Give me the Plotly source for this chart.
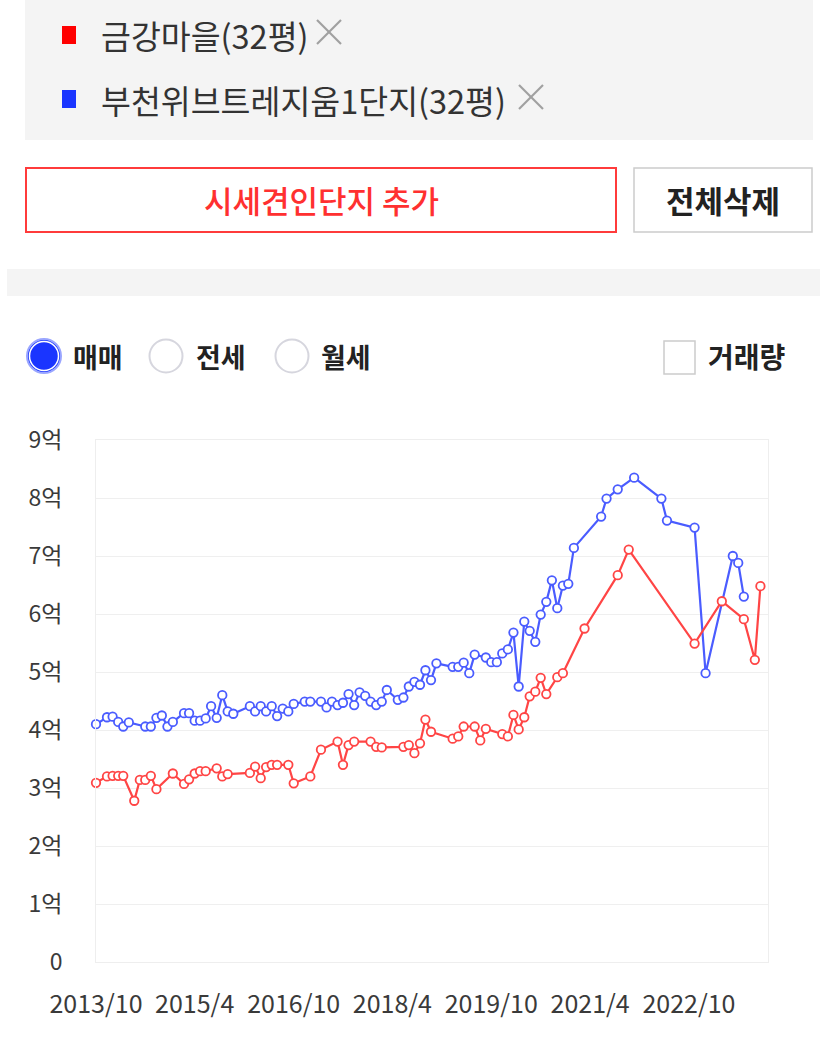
import plotly.graph_objects as go

# ---- price history (unit: 억 원) ----
red_name = "금강마을(32평)"
red_dates = [
    "2013-10", "2013-12", "2014-01", "2014-02", "2014-03", "2014-05", "2014-06",
    "2014-07", "2014-08", "2014-09", "2014-12", "2015-02", "2015-03", "2015-04",
    "2015-05", "2015-06", "2015-08", "2015-09", "2015-10", "2016-02", "2016-03",
    "2016-04", "2016-05", "2016-06", "2016-07", "2016-09", "2016-10", "2017-01",
    "2017-03", "2017-06", "2017-07", "2017-08", "2017-09", "2017-12", "2018-01",
    "2018-02", "2018-06", "2018-07", "2018-08", "2018-09", "2018-10", "2018-11",
    "2019-03", "2019-04", "2019-05", "2019-07", "2019-08", "2019-09", "2019-12",
    "2020-01", "2020-02", "2020-03", "2020-04", "2020-05", "2020-06", "2020-07",
    "2020-08", "2020-10", "2020-11", "2021-03", "2021-09", "2021-11", "2022-11",
    "2023-04", "2023-08", "2023-10", "2023-11",
]
red_values = [
    3.09, 3.20, 3.21, 3.21, 3.21, 2.78, 3.14,
    3.14, 3.21, 2.98, 3.25, 3.07, 3.15, 3.25,
    3.29, 3.29, 3.34, 3.20, 3.24, 3.26, 3.37,
    3.17, 3.36, 3.40, 3.40, 3.40, 3.08, 3.20,
    3.66, 3.80, 3.40, 3.74, 3.80, 3.80, 3.71,
    3.70, 3.71, 3.74, 3.60, 3.77, 4.18, 3.97,
    3.85, 3.89, 4.06, 4.06, 3.82, 4.02, 3.93,
    3.89, 4.26, 4.01, 4.22, 4.58, 4.66, 4.90,
    4.62, 4.91, 4.98, 5.75, 6.67, 7.11, 5.49,
    6.22, 5.91, 5.21, 6.48,
]

blue_name = "부천위브트레지움1단지(32평)"
blue_dates = [
    "2013-10", "2013-12", "2014-01", "2014-02", "2014-03", "2014-04", "2014-07",
    "2014-08", "2014-09", "2014-10", "2014-11", "2014-12", "2015-02", "2015-03",
    "2015-04", "2015-05", "2015-06", "2015-07", "2015-08", "2015-09", "2015-10",
    "2015-11", "2016-02", "2016-03", "2016-04", "2016-05", "2016-06", "2016-07",
    "2016-08", "2016-09", "2016-10", "2016-12", "2017-01", "2017-03", "2017-04",
    "2017-05", "2017-06", "2017-07", "2017-08", "2017-09", "2017-10", "2017-11",
    "2017-12", "2018-01", "2018-02", "2018-03", "2018-05", "2018-06", "2018-07",
    "2018-08", "2018-09", "2018-10", "2018-11", "2018-12", "2019-03", "2019-04",
    "2019-05", "2019-06", "2019-07", "2019-09", "2019-10", "2019-11", "2019-12",
    "2020-01", "2020-02", "2020-03", "2020-04", "2020-05", "2020-06", "2020-07",
    "2020-08", "2020-09", "2020-10", "2020-11", "2020-12", "2021-01", "2021-06",
    "2021-07", "2021-09", "2021-12", "2022-05", "2022-06", "2022-11", "2023-01",
    "2023-06", "2023-07", "2023-08",
]
blue_values = [
    4.10, 4.22, 4.23, 4.14, 4.06, 4.13, 4.06,
    4.06, 4.21, 4.25, 4.06, 4.14, 4.29, 4.29,
    4.16, 4.16, 4.20, 4.41, 4.21, 4.60, 4.32,
    4.28, 4.41, 4.32, 4.41, 4.32, 4.41, 4.24,
    4.37, 4.32, 4.45, 4.49, 4.49, 4.49, 4.39,
    4.49, 4.43, 4.47, 4.62, 4.43, 4.65, 4.59,
    4.49, 4.43, 4.49, 4.69, 4.52, 4.56, 4.75,
    4.83, 4.78, 5.03, 4.86, 5.15, 5.09, 5.09,
    5.16, 4.98, 5.30, 5.25, 5.17, 5.17, 5.32,
    5.39, 5.68, 4.75, 5.87, 5.71, 5.52, 5.99,
    6.21, 6.58, 6.10, 6.49, 6.52, 7.14, 7.68,
    7.99, 8.15, 8.35, 7.99, 7.61, 7.49, 4.98,
    7.00, 6.88, 6.30,
]

# ---- axis ticks ----
x_tick_dates = ["2013-10-01", "2015-04-01", "2016-10-01", "2018-04-01",
                "2019-10-01", "2021-04-01", "2022-10-01"]
x_tick_text = ["2013/10", "2015/4", "2016/10", "2018/4", "2019/10", "2021/4", "2022/10"]
y_tick_vals = [0, 1, 2, 3, 4, 5, 6, 7, 8, 9]
y_tick_text = ["0", "1억", "2억", "3억", "4억", "5억", "6억", "7억", "8억", "9억"]

# ---- page geometry (pixels) ----
W, H = 827, 1039
PL, PR, PT, PB = 96, 768, 440, 962   # plot box edges

RED = "#ff4545"
BLUE = "#4a5cff"
FONT = "Noto Sans CJK KR"


def px(x):
    return (x - PL) / (PR - PL)


def py(y):
    return (PB - y) / (PB - PT)


def rect(x0, y0, x1, y1, fill="rgba(0,0,0,0)", line=None, width=0):
    return dict(type="rect", xref="paper", yref="paper", layer="below",
                x0=px(x0), x1=px(x1), y0=py(y1), y1=py(y0),
                fillcolor=fill, line=dict(color=line or "rgba(0,0,0,0)", width=width))


def circle(cx, cy, r, fill="rgba(0,0,0,0)", line=None, width=0):
    return dict(type="circle", xref="paper", yref="paper", layer="above",
                x0=px(cx - r), x1=px(cx + r), y0=py(cy + r), y1=py(cy - r),
                fillcolor=fill, line=dict(color=line or "rgba(0,0,0,0)", width=width))


def seg(x0, y0, x1, y1, color, width):
    return dict(type="line", xref="paper", yref="paper",
                x0=px(x0), x1=px(x1), y0=py(y0), y1=py(y1),
                line=dict(color=color, width=width))


def label(x, y, text, size, color="#333333", anchor="left", weight=400):
    return dict(xref="paper", yref="paper", x=px(x), y=py(y), text=text,
                showarrow=False, xanchor=anchor, yanchor="middle",
                font=dict(family=FONT, size=size, color=color, weight=weight))


fig = go.Figure()

for name, dates, vals, col in [(blue_name, blue_dates, blue_values, BLUE),
                               (red_name, red_dates, red_values, RED)]:
    fig.add_trace(go.Scatter(
        x=[d + "-01" for d in dates], y=vals, name=name, mode="lines+markers",
        line=dict(color=col, width=2.2),
        marker=dict(symbol="circle", size=8.5, color="white",
                    line=dict(color=col, width=1.8)),
        cliponaxis=False,
    ))

shapes = [
    # selected-complex panel
    rect(25, -5, 813, 140, fill="#f4f4f4"),
    rect(62, 26, 76, 44, fill="#ff0000"),
    rect(62, 90, 76, 108, fill="#1a35ff"),
    seg(317, 20, 341, 44, "#a0a0a0", 2.2),
    seg(317, 44, 341, 20, "#a0a0a0", 2.2),
    seg(519, 85, 543, 109, "#a0a0a0", 2.2),
    seg(519, 109, 543, 85, "#a0a0a0", 2.2),
    # buttons
    rect(26, 168, 616, 232, fill="white", line="#ff3b3b", width=2),
    rect(634, 168, 812, 232, fill="white", line="#cccccc", width=1.5),
    # separator band
    rect(7, 269, 820, 296, fill="#f4f4f4"),
    # radios and checkbox
    circle(44, 356, 17, fill="#1a35ff", line="#9aa6ff", width=2),
    circle(44, 356, 14.5, line="white", width=1.5),
    circle(166, 356, 16.5, fill="white", line="#d6d6de", width=2),
    circle(292, 356, 16.5, fill="white", line="#d6d6de", width=2),
    rect(664, 341, 695, 374, fill="white", line="#cccccc", width=1.5),
]

annotations = [
    label(99, 34, red_name, 32.5),
    label(99, 99, blue_name, 32.5),
    label(321, 200, "시세견인단지 추가", 31, color="#ff3030", anchor="center", weight=500),
    label(723, 200, "전체삭제", 31, color="#222222", anchor="center", weight=700),
    label(71, 356, "매매", 27, color="#222222", weight=700),
    label(194, 356, "전세", 27, color="#222222", weight=700),
    label(319, 356, "월세", 27, color="#222222", weight=700),
    label(706, 356, "거래량", 28, color="#222222", weight=700),
]

fig.update_layout(
    width=W, height=H,
    margin=dict(l=PL, r=W - PR, t=PT, b=H - PB, pad=0),
    paper_bgcolor="white", plot_bgcolor="white",
    showlegend=False,
    shapes=shapes, annotations=annotations,
    font=dict(family=FONT, color="#444444"),
)

fig.update_xaxes(
    type="date", range=["2013-10-01", "2023-12-13"],
    tickmode="array", tickvals=x_tick_dates, ticktext=x_tick_text,
    tickfont=dict(family=FONT, size=25, color="#3a3a3a"),
    ticks="outside", ticklen=20, tickcolor="rgba(0,0,0,0)",
    showgrid=False, zeroline=False,
    showline=True, mirror=True, linecolor="#eeeeee", linewidth=1,
)
fig.update_yaxes(
    range=[0, 9], tickmode="array", tickvals=y_tick_vals, ticktext=y_tick_text,
    tickfont=dict(family=FONT, size=23, color="#3a3a3a"),
    ticks="outside", ticklen=28, tickcolor="rgba(0,0,0,0)",
    showgrid=True, gridcolor="#efefef", gridwidth=1, zeroline=False,
    showline=True, mirror=True, linecolor="#eeeeee", linewidth=1,
)

fig.write_html("out.html")
